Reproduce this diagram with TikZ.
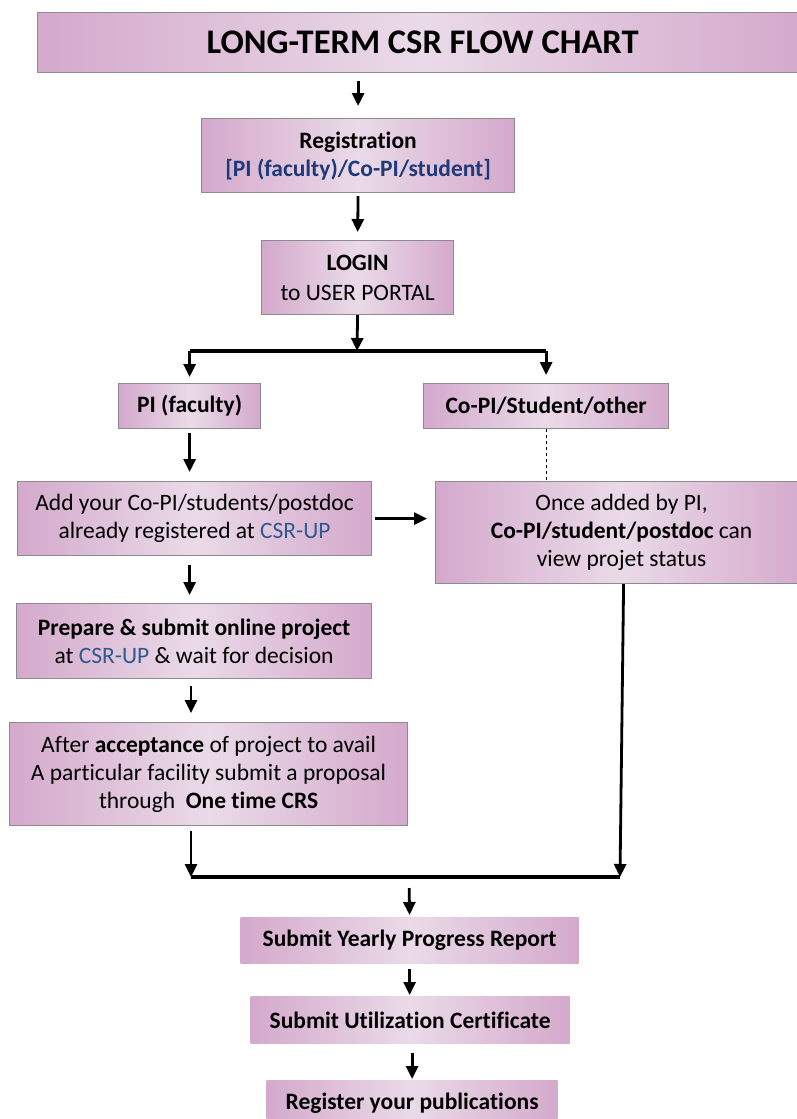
\documentclass[tikz,border=0pt]{standalone}
\usepackage{fontspec}
\setmainfont{Carlito}[Ligatures={NoCommon}]
\usetikzlibrary{arrows.meta}
\definecolor{boxedge}{HTML}{D4A9CC}
\definecolor{boxmid}{HTML}{EADAE8}
\definecolor{bordergray}{HTML}{8C8C8C}
\definecolor{navy}{HTML}{1F3A78}
\definecolor{linkblue}{HTML}{2E5B8C}
\begin{document}
\begin{tikzpicture}[x=1pt,y=-1pt,
  fbox/.style={draw=bordergray, line width=1.2pt, left color=boxedge, right color=boxedge, middle color=boxmid,
    anchor=north west, inner sep=0pt, align=center, font=\fontsize{23.5}{28}\selectfont},
  pbox/.style={fbox, draw=none},
  arr/.style={-{Triangle[length=13pt,width=12pt]}, line width=2.8pt},
  joinline/.style={line width=3.2pt},
  ]
\useasboundingbox (0,0) rectangle (797,1119);

\node[fbox, minimum width=770pt, minimum height=60pt, font=\fontsize{34.5}{40}\selectfont\bfseries] (title) at (37,12) {LONG-TERM CSR FLOW CHART};
\node[fbox, minimum width=313pt, minimum height=74pt] (reg) at (201,118) {\textbf{Registration}\\\textcolor{navy}{\textbf{[PI (faculty)/Co-PI/student]}}};
\node[fbox, minimum width=192pt, minimum height=74pt, font=\fontsize{23.5}{30}\selectfont] (login) at (261,240) {\textbf{LOGIN}\\to USER PORTAL};
\node[fbox, minimum width=142pt, minimum height=45pt] (pi) at (118,383) {\textbf{PI (faculty)}};
\node[fbox, minimum width=245pt, minimum height=45pt] (copi) at (423,383) {\textbf{Co-PI/Student/other}};
\node[fbox, minimum width=354pt, minimum height=74pt] (add) at (17,481) {Add your Co-PI/students/postdoc\\already registered at \textcolor{linkblue}{CSR-UP}};
\node[fbox, minimum width=372pt, minimum height=102pt] (once) at (435,481) {Once added by PI,\\\textbf{Co-PI/student/postdoc} can\\view projet status};
\node[fbox, minimum width=355pt, minimum height=75pt] (prep) at (16,603) {\textbf{Prepare \& submit online project}\\at \textcolor{linkblue}{CSR-UP} \& wait for decision};
\node[fbox, minimum width=398pt, minimum height=103pt] (after) at (9,722) {After \textbf{acceptance} of project to avail\\A particular facility submit a proposal\\through\ \ \textbf{One time CRS}};
\node[pbox, minimum width=338pt, minimum height=46pt] (yearly) at (240,917) {\textbf{Submit Yearly Progress Report}};
\node[pbox, minimum width=319pt, minimum height=47pt] (uc) at (250,996) {\textbf{Submit Utilization Certificate}};
\node[pbox, minimum width=291pt, minimum height=46pt] (pub) at (266,1080) {\textbf{Register your publications}};

\coordinate (j1) at (357,351);
\coordinate (mL) at (191,877);
\coordinate (mR) at (620,877);
\coordinate (mC) at (409,877);

\draw[arr, shorten <=8pt, shorten >=12pt] (title.south -| reg.north) -- (reg.north);
\draw[arr, shorten <=3pt, shorten >=8pt] (reg.south) -- (login.north);
\draw[arr] (login.south) -- (j1);
\draw[joinline] (j1 -| pi) -- (j1 -| copi);
\draw[arr, shorten >=6pt] (j1 -| pi) -- (pi.north);
\draw[arr, shorten >=8pt] (j1 -| copi) -- (copi.north);
\draw[arr, shorten <=4pt, shorten >=9pt] (pi.south) -- (pi.south |- add.north);
\draw[dashed, line width=1pt] (copi.south) -- (copi.south |- once.north);
\draw[arr, shorten <=3pt, shorten >=8pt] (add.east) -- (add.east -| once.west);
\draw[arr, shorten <=9pt, shorten >=8pt] (pi.south |- add.south) -- (pi.south |- prep.north);
\draw[arr, shorten <=7pt, shorten >=9pt] (mL |- prep.south) -- (mL |- after.north);
\draw[arr, shorten <=5pt] (mL |- after.south) -- (mL);
\draw[arr] ([xshift=2pt]once.south) -- (mR);
\draw[joinline] (mL) -- (mR);
\draw[arr, shorten <=11pt, shorten >=2pt] (mC) -- (yearly.north);
\draw[arr, shorten <=5pt, shorten >=1pt] (yearly.south) -- (yearly.south |- uc.north);
\draw[arr, shorten <=9pt, shorten >=1pt] (pub.north |- uc.south) -- (pub.north);
\end{tikzpicture}
\end{document}
